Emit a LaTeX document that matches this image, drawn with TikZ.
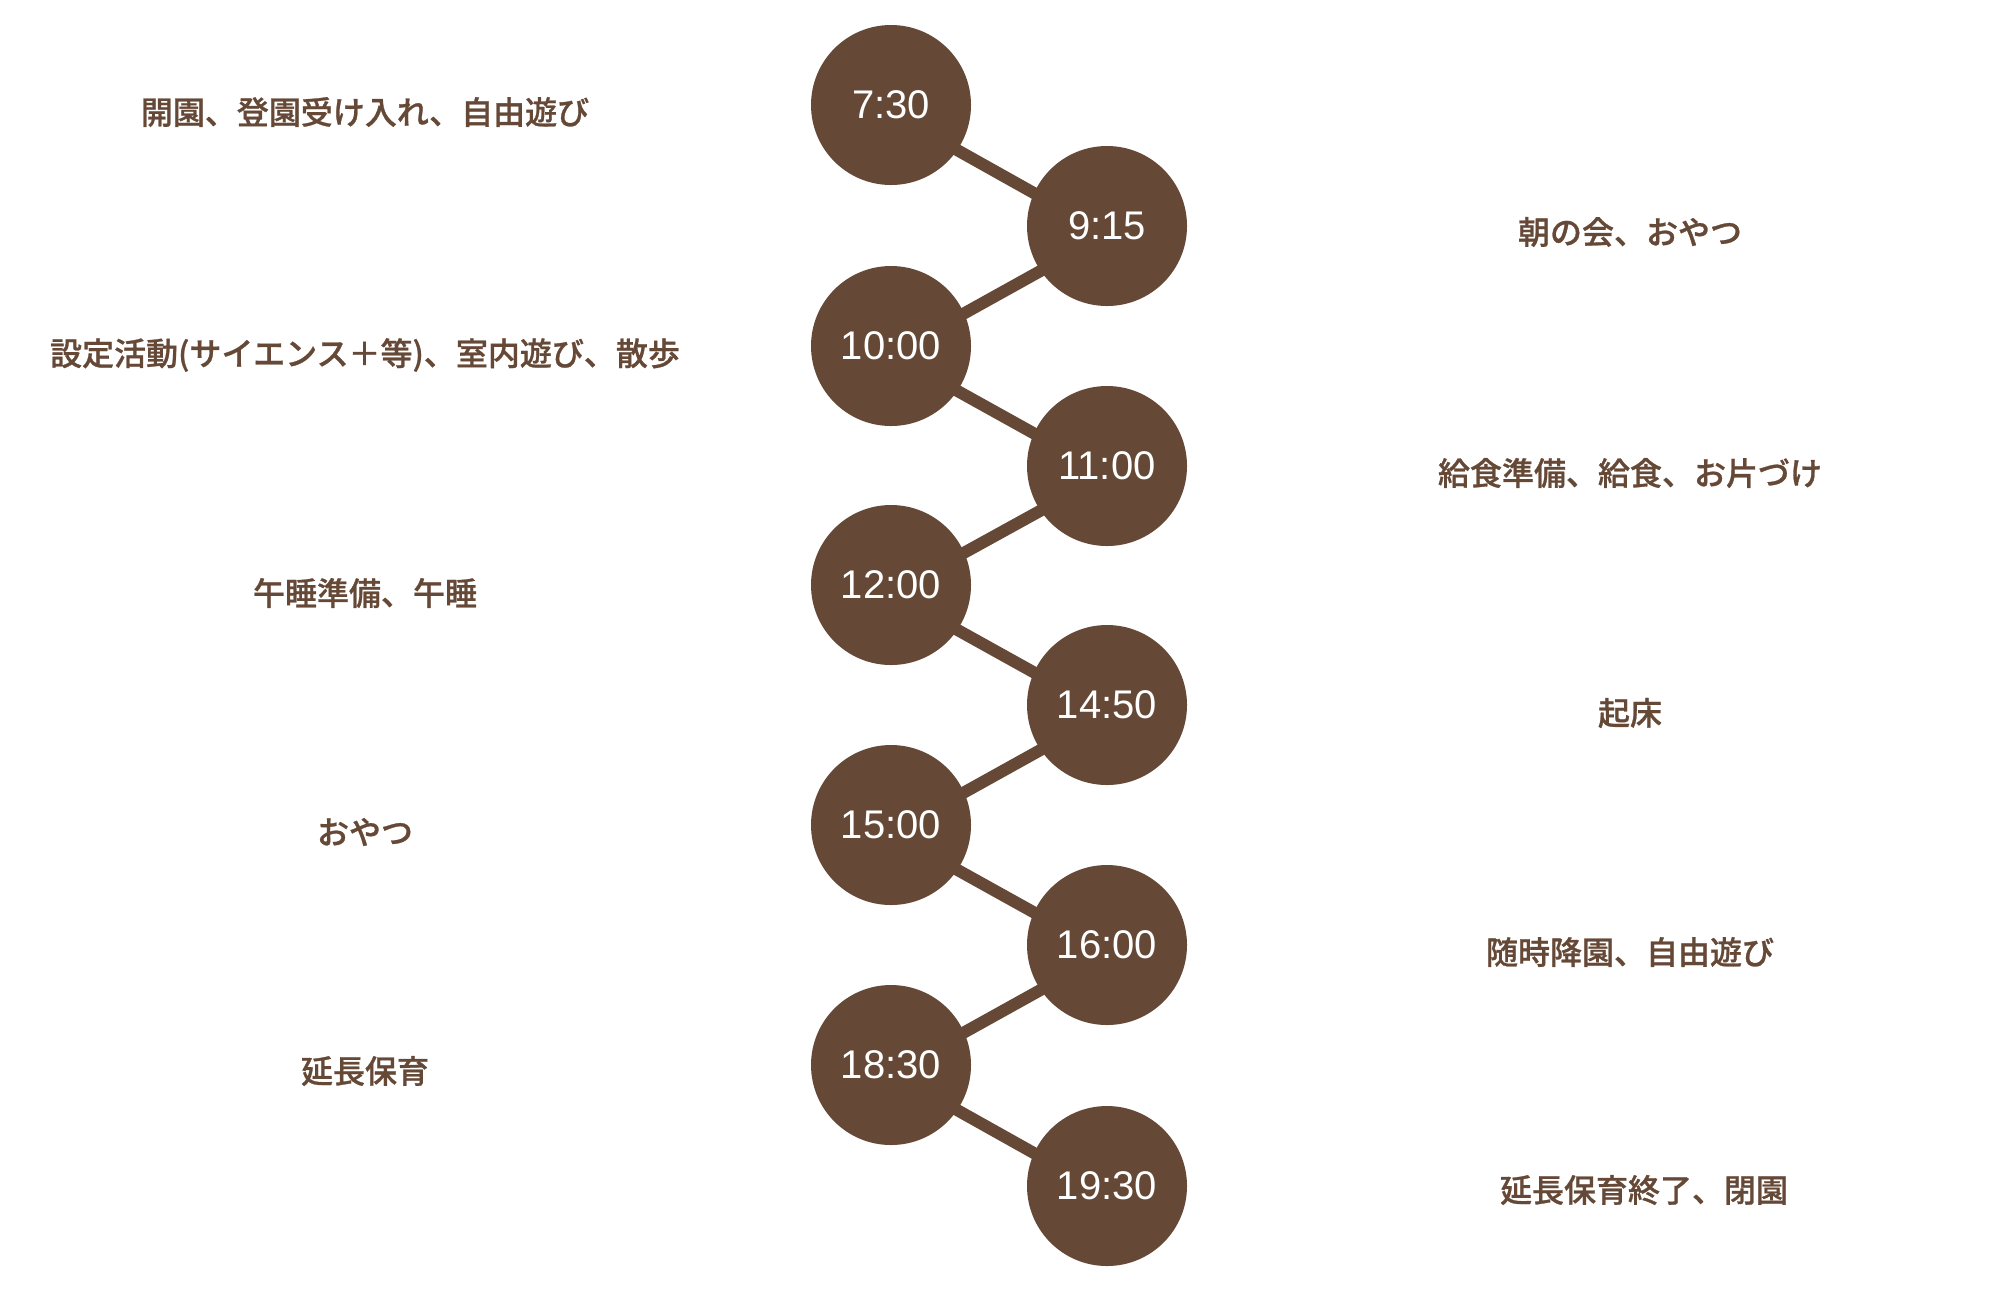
\documentclass[tikz,border=0pt]{standalone}
\usepackage{fontspec}
\setmainfont{Liberation Sans}
\newfontfamily\jpfont{Noto Sans CJK JP Medium}[FakeBold=0.8]
\usepackage{xcolor}
\usepackage{tikz}
\usetikzlibrary{backgrounds}

\definecolor{cocoa}{HTML}{654836}

\begin{document}
\begin{tikzpicture}[
            x=0.5pt, y=-0.5pt,
            timept/.style={circle, fill=cocoa, minimum size=80pt, inner sep=0pt, text=white, font=\fontsize{20}{23}\selectfont},
            lbl/.style={text=cocoa, font=\jpfont\fontsize{16}{19}\selectfont, inner sep=0pt},
            link/.style={draw=cocoa, line width=6pt}
        ]
            \useasboundingbox (0,0) rectangle (2000,1298);
            \node[timept] (t730)  at (891,105)  {7:30};
            \node[timept] (t915)  at (1107,226) {9:15};
            \node[timept] (t1000) at (891,346)  {10:00};
            \node[timept] (t1100) at (1107,466) {11:00};
            \node[timept] (t1200) at (891,585)  {12:00};
            \node[timept] (t1450) at (1107,705) {14:50};
            \node[timept] (t1500) at (891,825)  {15:00};
            \node[timept] (t1600) at (1107,945) {16:00};
            \node[timept] (t1830) at (891,1065) {18:30};
            \node[timept] (t1930) at (1107,1186) {19:30};
            \begin{scope}[on background layer]
            \fill[white] (0,0) rectangle (2000,1298);
            \draw[link] ([yshift=-4pt]t730.center)  -- ([yshift=-4pt]t915.center);
            \draw[link] ([yshift=-4pt]t915.center)  -- ([yshift=-4pt]t1000.center);
            \draw[link] ([yshift=-4pt]t1000.center) -- ([yshift=-4pt]t1100.center);
            \draw[link] ([yshift=-4pt]t1100.center) -- ([yshift=-4pt]t1200.center);
            \draw[link] ([yshift=-4pt]t1200.center) -- ([yshift=-4pt]t1450.center);
            \draw[link] ([yshift=-4pt]t1450.center) -- ([yshift=-4pt]t1500.center);
            \draw[link] ([yshift=-4pt]t1500.center) -- ([yshift=-4pt]t1600.center);
            \draw[link] ([yshift=-4pt]t1600.center) -- ([yshift=-4pt]t1830.center);
            \draw[link] ([yshift=-4pt]t1830.center) -- ([yshift=-4pt]t1930.center);
            \end{scope}
            \node[lbl] (l730)  at (365,112)  {開園、登園受け入れ、自由遊び};
            \node[lbl] (l915)  at (1630,232) {朝の会、おやつ};
            \node[lbl] (l1000) at (365,355)  {設定活動(サイエンス＋等)、室内遊び、散歩};
            \node[lbl] (l1100) at (1630,473) {給食準備、給食、お片づけ};
            \node[lbl] (l1200) at (365,593)  {午睡準備、午睡};
            \node[lbl] (l1450) at (1630,713) {起床};
            \node[lbl] (l1500) at (365,832)  {おやつ};
            \node[lbl] (l1600) at (1630,952) {随時降園、自由遊び};
            \node[lbl] (l1830) at (365,1071) {延長保育};
            \node[lbl] (l1930) at (1644,1190) {延長保育終了、閉園};
        \end{tikzpicture}
\end{document}
